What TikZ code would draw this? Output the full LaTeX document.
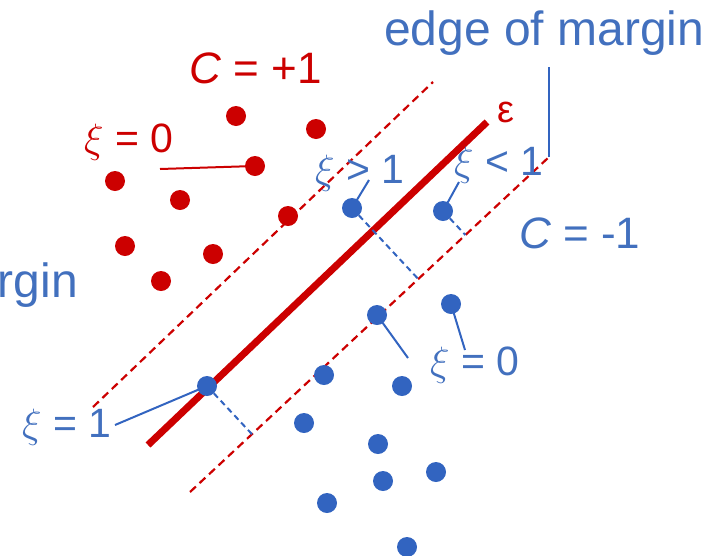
\RequirePackage{fix-cm}
\documentclass[tikz,border=0pt]{standalone}
\usepackage{fontspec}
\setmainfont{Liberation Sans}
\usetikzlibrary{backgrounds,calc}
\definecolor{cred}{RGB}{204,0,0}
\definecolor{cblue}{RGB}{50,100,192}
\definecolor{tblue}{RGB}{66,112,190}
\begin{document}
\begin{tikzpicture}[x=1pt,y=-1pt,
  rdot/.style={circle,fill=cred,inner sep=0pt,minimum size=20pt},
  bdot/.style={circle,fill=cblue,inner sep=0pt,minimum size=20pt},
  lbl/.style={inner sep=0pt,anchor=base west},
  big/.style={font=\fontsize{48}{52}\selectfont},
  mid/.style={font=\fontsize{44}{48}\selectfont},
  small/.style={font=\fontsize{41}{45}\selectfont},
  tiny/.style={font=\fontsize{41}{45}\selectfont},
  hyper/.style={draw=cred,line width=7pt},
  marg/.style={draw=cred,line width=2.2pt,dash pattern=on 8pt off 5pt},
  perp/.style={draw=cblue,line width=2pt,dash pattern=on 6pt off 4pt},
  bcon/.style={draw=cblue,line width=2pt},
  rcon/.style={draw=cred,line width=2pt}]
\useasboundingbox (0,0) rectangle (706,555);
\clip (0,0) rectangle (706,555);

% line end points
\coordinate (hA) at (148,445);
\coordinate (hB) at (487,122);
\coordinate (uA) at (93,407);
\coordinate (uB) at (433,82);
\coordinate (lA) at (190,492);
\coordinate (lB) at (549,157);
\coordinate (em) at (549,67);

% red points
\node[rdot] (r1) at (236,116) {};
\node[rdot] (r2) at (316,129) {};
\node[rdot] (r3) at (255,166) {};
\node[rdot] (r4) at (115,181) {};
\node[rdot] (r5) at (180,200) {};
\node[rdot] (r6) at (288,216) {};
\node[rdot] (r7) at (125,246) {};
\node[rdot] (r8) at (213,254) {};
\node[rdot] (r9) at (161,281) {};

% blue points
\node[bdot] (b1) at (352,208) {};
\node[bdot] (b2) at (443,211) {};
\node[bdot] (b3) at (207,386) {};
\node[bdot] (b4) at (377,315) {};
\node[bdot] (b5) at (451,304) {};
\node[bdot] (b6) at (324,375) {};
\node[bdot] (b7) at (402,386) {};
\node[bdot] (b8) at (304,423) {};
\node[bdot] (b9) at (378,444) {};
\node[bdot] (b10) at (383,481) {};
\node[bdot] (b11) at (436,472) {};
\node[bdot] (b12) at (327,503) {};
\node[bdot] (b13) at (407,547) {};

% labels
\node[lbl,big,text=tblue] (edge) at (384,45) {edge of margin};
\node[lbl,big,text=tblue,anchor=base east] (margin) at (78,297) {margin};
\node[lbl,mid,text=cred] (cp) at (189,83) {\textit{C} = +1};
\node[lbl,mid,text=tblue] (cm) at (519,248) {\textit{C} = -1};
\node[lbl,font=\fontsize{38}{42}\selectfont,text=cred] (eps) at (497,122) {ε};
\node[lbl,small,text=cred] (x0r) at (84,152) {$\xi$ = 0};
\node[lbl,tiny,text=tblue] (xg1) at (315,183) {$\xi$ > 1};
\node[lbl,tiny,text=tblue] (xl1) at (454,175) {$\xi$ < 1};
\node[lbl,small,text=tblue] (x0b) at (430,375) {$\xi$ = 0};
\node[lbl,small,text=tblue] (xe1) at (22,437) {$\xi$ = 1};

% connector free ends
\coordinate (c0r) at (160,169);
\coordinate (cg1) at (369,180);
\coordinate (cl1) at (459,182);
\coordinate (c0b1) at (408,358);
\coordinate (c0b2) at (465,350);
\coordinate (ce1) at (115,425);

\begin{scope}[on background layer]
  \draw[marg] (uA) -- (uB);
  \draw[marg] (lA) -- (lB);
  \draw[hyper] (hA) -- (hB);
  \draw[bcon] (em) -- (lB);
  \draw[perp] (b1.center) -- ($(lA)!(b1.center)!(lB)$);
  \draw[perp] (b2.center) -- ($(lA)!(b2.center)!(lB)$);
  \draw[perp] (b3.center) -- ($(lA)!(b3.center)!(lB)$);
  \draw[rcon] (c0r) -- (r3.center);
  \draw[bcon] (b1.center) -- (cg1);
  \draw[bcon] (b2.center) -- (cl1);
  \draw[bcon] (b4.center) -- (c0b1);
  \draw[bcon] (b5.center) -- (c0b2);
  \draw[bcon] (b3.center) -- (ce1);
\end{scope}
\end{tikzpicture}
\end{document}
